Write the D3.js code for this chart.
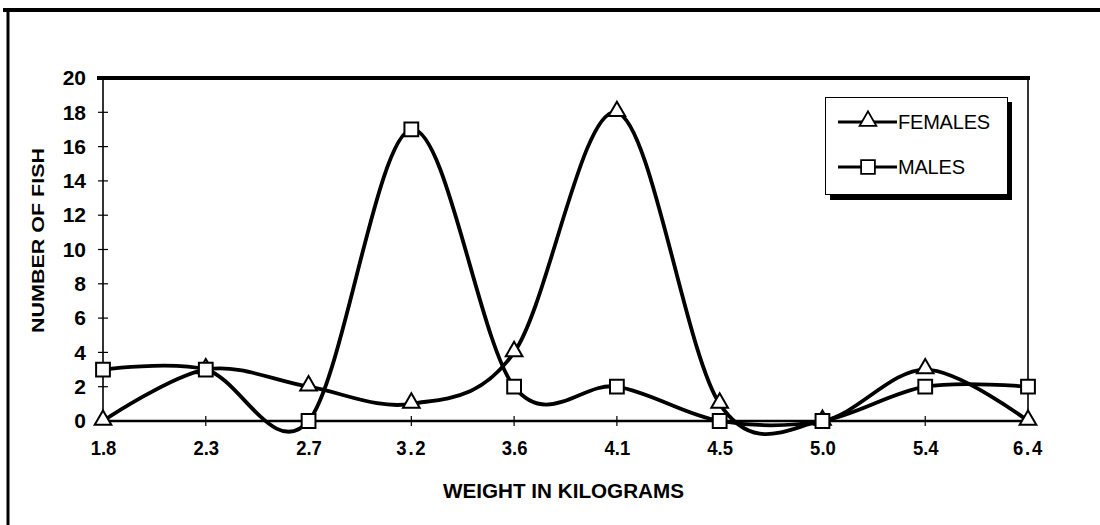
<!DOCTYPE html>
<html>
<head>
<meta charset="utf-8">
<script src="https://cdn.jsdelivr.net/npm/d3@7"></script>
<style>
  body { margin: 0; background: #fff; }
  svg { display: block; }
</style>
</head>
<body>
<svg id="chart"></svg>
<script>
const svg = d3.select("#chart")
  .attr("width", 1100)
  .attr("height", 525);

// Data
const weights = ["1.8", "2.3", "2.7", "3.2", "3.6", "4.1", "4.5", "5.0", "5.4", "6.4"];
const females = [0, 3, 2, 1, 4, 18, 1, 0, 3, 0];
const males = [3, 3, 0, 17, 2, 2, 0, 0, 2, 2];
const yTicks = [0, 2, 4, 6, 8, 10, 12, 14, 16, 18, 20];

const plotLeft = 103, plotRight = 1028, plotTop = 78, plotBottom = 421;

const x = d3.scalePoint()
  .domain(weights)
  .range([plotLeft, plotRight]);

const y = d3.scaleLinear()
  .domain([0, 20])
  .range([plotBottom, plotTop]);

/* -------------------------
   OUTER FRAME
-------------------------- */
svg.append("line")
  .attr("x1", 3).attr("x2", 1100)
  .attr("y1", 10).attr("y2", 10)
  .attr("stroke", "#000").attr("stroke-width", 4);

svg.append("line")
  .attr("x1", 8).attr("x2", 8)
  .attr("y1", 8).attr("y2", 525)
  .attr("stroke", "#000").attr("stroke-width", 3);

/* -------------------------
   AXES
-------------------------- */
const yAxis = svg.append("g")
  .attr("transform", `translate(${plotLeft},0)`)
  .call(d3.axisLeft(y).tickValues(yTicks).tickSize(0).tickPadding(17));

yAxis.select(".domain").remove();
yAxis.selectAll("text")
  .attr("font-family", "Liberation Sans, Arial, sans-serif")
  .attr("font-weight", "bold")
  .attr("font-size", 21)
  .attr("fill", "#000");

// tick marks crossing the axis
svg.append("g").selectAll("line")
  .data(yTicks.slice(1, -1))
  .enter().append("line")
  .attr("x1", plotLeft - 5).attr("x2", plotLeft + 5)
  .attr("y1", d => y(d)).attr("y2", d => y(d))
  .attr("stroke", "#000").attr("stroke-width", 1.2);

svg.append("line")
  .attr("x1", plotLeft).attr("x2", plotLeft)
  .attr("y1", plotTop).attr("y2", plotBottom)
  .attr("stroke", "#000").attr("stroke-width", 1.6);

svg.append("line")
  .attr("x1", plotRight).attr("x2", plotRight)
  .attr("y1", plotTop).attr("y2", plotBottom)
  .attr("stroke", "#000").attr("stroke-width", 1.6);

svg.append("line")
  .attr("x1", plotLeft - 6).attr("x2", plotRight + 2)
  .attr("y1", plotTop).attr("y2", plotTop)
  .attr("stroke", "#000").attr("stroke-width", 4);

const xAxis = svg.append("g")
  .attr("transform", `translate(0,${plotBottom})`)
  .call(d3.axisBottom(x).tickSize(0).tickPadding(19));

xAxis.select(".domain").remove();
xAxis.selectAll(".tick text")
  .attr("font-family", "Liberation Sans, Arial, sans-serif")
  .attr("font-weight", "bold")
  .attr("font-size", 21)
  .attr("letter-spacing", d => (d === "3.2" || d === "6.4") ? 2 : 0)
  .attr("transform", "scale(0.88,1)")
  .attr("fill", "#000");

svg.append("g").selectAll("line")
  .data(weights.slice(1, -1))
  .enter().append("line")
  .attr("x1", d => x(d)).attr("x2", d => x(d))
  .attr("y1", plotBottom - 5).attr("y2", plotBottom + 5)
  .attr("stroke", "#000").attr("stroke-width", 1.2);

svg.append("line")
  .attr("x1", plotLeft).attr("x2", plotRight)
  .attr("y1", plotBottom).attr("y2", plotBottom)
  .attr("stroke", "#000").attr("stroke-width", 2.5);

/* -------------------------
   AXIS TITLES
-------------------------- */
svg.append("text")
  .attr("x", 443).attr("y", 498)
  .attr("font-family", "Liberation Sans, Arial, sans-serif")
  .attr("font-weight", "bold")
  .attr("font-size", 21)
  .attr("textLength", 241)
  .attr("lengthAdjust", "spacingAndGlyphs")
  .text("WEIGHT IN KILOGRAMS");

svg.append("text")
  .attr("transform", "translate(44,333) rotate(-90)")
  .attr("font-family", "Liberation Sans, Arial, sans-serif")
  .attr("font-weight", "bold")
  .attr("font-size", 17)
  .attr("textLength", 185)
  .attr("lengthAdjust", "spacingAndGlyphs")
  .text("NUMBER OF FISH");

/* -------------------------
   SERIES
-------------------------- */
const line = d3.line()
  .x((d, i) => x(weights[i]))
  .y(d => y(d))
  .curve(d3.curveCatmullRom.alpha(0));

const series = [
  { name: "FEMALES", values: females, marker: "triangle" },
  { name: "MALES", values: males, marker: "square" }
];

svg.append("g").selectAll("path")
  .data(series)
  .enter().append("path")
  .attr("d", d => line(d.values))
  .attr("fill", "none")
  .attr("stroke", "#000")
  .attr("stroke-width", 3.8)
  .attr("stroke-linejoin", "round");

const square = d3.symbol().type(d3.symbolSquare).size(190);
const triangle = d3.symbol().type(d3.symbolTriangle).size(120);

function markerPath(kind) {
  return kind === "square" ? square() : triangle();
}

series.forEach(s => {
  svg.append("g").selectAll("path")
    .data(s.values)
    .enter().append("path")
    .attr("d", markerPath(s.marker))
    .attr("transform", (d, i) => `translate(${x(weights[i])},${y(d) + (s.marker === "triangle" ? -1 : 0)})`)
    .attr("fill", "#fff")
    .attr("stroke", "#000")
    .attr("stroke-width", 2);
});

/* -------------------------
   LEGEND
-------------------------- */
const legend = svg.append("g");

legend.append("rect")
  .attr("x", 830).attr("y", 102)
  .attr("width", 182).attr("height", 98)
  .attr("fill", "#000");

legend.append("rect")
  .attr("x", 825.5).attr("y", 97.5)
  .attr("width", 182).attr("height", 97)
  .attr("fill", "#fff")
  .attr("stroke", "#000")
  .attr("stroke-width", 1);

const legendRows = legend.selectAll("g.row")
  .data(series)
  .enter().append("g")
  .attr("class", "row")
  .attr("transform", (d, i) => `translate(0,${122 + i * 45})`);

legendRows.append("line")
  .attr("x1", 838).attr("x2", 897)
  .attr("stroke", "#000").attr("stroke-width", 3);

legendRows.append("path")
  .attr("d", d => markerPath(d.marker))
  .attr("transform", d => `translate(868,${d.marker === "triangle" ? -1 : 0})`)
  .attr("fill", "#fff")
  .attr("stroke", "#000")
  .attr("stroke-width", 1.8);

legendRows.append("text")
  .attr("x", 898).attr("y", 7)
  .attr("font-family", "Liberation Sans, Arial, sans-serif")
  .attr("font-size", 20)
  .attr("letter-spacing", -0.2)
  .text(d => d.name);
</script>
</body>
</html>
